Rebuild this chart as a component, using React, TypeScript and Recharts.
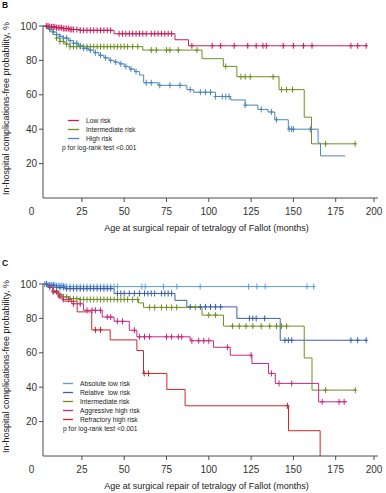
import React from 'react';
import { LineChart, Line, XAxis, YAxis } from 'recharts';

// axis values
const xTicks = [0, 25, 50, 75, 100, 125, 150, 175, 200];
const yTicks = [20, 40, 60, 80, 100];
const X0 = 2; // the plot starts a little right of "0"

// panel B: [months, %] step points + censored times
const bLowSteps = [[2, 100], [6, 99.5], [10, 99], [14, 98.5], [18, 98], [24, 97.5], [44, 95.5], [80, 92], [88, 88.5]];
const bLowCensor = [4, 5, 6, 7, 8, 9, 10, 11, 12, 13, 14, 15, 16, 17, 18, 19, 20, 22, 24, 26, 28, 30, 32, 34, 36, 38, 40, 42, 47, 49, 51, 53, 55, 57, 59, 61, 63, 66, 68, 70, 72, 74, 76, 78, 90, 102, 107, 115, 123, 128, 132, 134, 144, 150, 156, 161, 184, 188, 193];

const bMidSteps = [[2, 100], [4, 98.5], [6, 97], [8, 95], [10, 93], [12, 91], [15, 89.5], [18, 88], [61, 86], [96, 81], [108.6, 76.5], [116.6, 70.5], [141.5, 63], [156.4, 47], [160.7, 31.5]];
const bMidCensor = [10, 12, 14, 16, 18, 20, 22, 24, 26, 28, 30, 32, 34, 36, 38, 40, 42, 44, 46, 48, 50, 52, 55, 58, 66, 69, 75, 77, 82, 93, 110, 119, 121.5, 124.5, 138, 143, 146, 149.5, 169, 186.5];

const bHighSteps = [[2, 100], [4, 99], [6, 98], [8, 96.5], [10, 95], [12, 94], [14, 93], [17, 91.5], [20, 90], [23, 88.5], [26, 87], [29, 86], [32, 84.5], [35, 83], [38, 81.5], [41, 80], [44, 79], [47, 78], [50, 76.5], [53, 75], [56, 73.5], [59, 71.5], [61.5, 67], [70, 65.5], [87, 63], [91, 61.5], [104, 59], [113, 57], [121.5, 54], [129, 51.5], [135, 50], [139, 45.5], [147, 40], [164.6, 32], [166, 24.5], [180.6, 24.5]];
const bHighCensor = [6, 8, 10, 12, 14, 16, 18, 20, 22, 24, 26, 28, 30, 33, 36, 39, 42, 45, 48, 51, 54, 57, 63, 66, 71, 77, 83, 89, 95, 98, 101, 104, 108, 110, 112, 121.5, 131, 137, 140, 147.5, 149, 150, 160];

// panel C
const cAbsSteps = [[2, 100], [5, 99.5], [10, 99], [15, 98.5]];
const cAbsCensor = [3, 4, 5, 6, 7, 8, 9, 10, 11, 12, 13, 14, 15, 16, 18, 20, 22, 24, 26, 28, 30, 32, 34, 36, 38, 40, 42, 44, 46, 60.4, 62.4, 73.2, 81.1, 94.9, 123.5, 128.4, 133.3, 158, 162];

const cRelSteps = [[2, 100], [6, 99], [10, 98], [15, 97.3], [44, 94.5], [80, 90.5], [87, 86.7], [116.6, 80], [142.2, 67.3]];
const cRelCensor = [4, 6, 8, 10, 12, 14, 16, 18, 20, 22, 24, 26, 28, 30, 32, 34, 36, 38, 40, 42, 46, 48, 50, 53, 56, 59, 62, 64, 66, 68, 72, 74, 76, 78, 89, 95, 98, 101, 104, 107, 124, 126, 128, 133, 145, 147, 149, 184, 188, 193];

const cMidSteps = [[2, 100], [5, 98], [8, 96], [11, 94], [14, 92.5], [18, 91.5], [24, 91], [58.4, 89], [61.4, 86.4], [96, 81.9], [108.7, 75.5], [156.4, 57], [161, 38.3]];
const cMidCensor = [8, 10, 12, 14, 16, 18, 20, 22, 24, 26, 28, 30, 32, 34, 36, 38, 40, 42, 44, 46, 48, 50, 52, 55, 58, 65, 68, 72, 75, 78, 81, 92, 100, 104, 114, 118, 122, 126, 131, 136, 140, 143, 146, 169, 186.6];

const cAggSteps = [[2, 100], [5, 98], [8, 95.5], [11, 93], [14, 91], [19, 88.5], [26, 84.7], [37, 80.8], [44, 78.3], [53, 73.1], [57.5, 69.3], [89, 67], [102.8, 63.2], [112.7, 58.6], [125.5, 53.8], [135.3, 48], [139.3, 42.2], [164.9, 31.5], [181.7, 31.5]];
const cAggCensor = [6, 8, 10, 12, 14, 17, 20, 24, 28, 31, 33, 36, 40, 42, 46, 49, 56, 59, 62, 65, 75, 78, 82, 84, 90, 94, 97, 100, 111, 125, 137, 141.5, 149, 167, 177, 180];

const cRefSteps = [[2, 100], [5, 98], [8, 95], [11, 92], [14, 90], [22.2, 83.8], [30.8, 73.3], [41.7, 67.5], [57.5, 61.3], [61.4, 48], [75.2, 38.7], [86, 29.2], [147.1, 14.7], [165.8, 0]];
const cRefCensor = [33, 36, 61.8, 64.4, 146.5];

const AXIS = '#4a4a4a';
const FONT = '"Liberation Sans", Arial, sans-serif';

// merge step points and censor marks (censor y = current step value)
function build(steps: number[][], censor: number[]) {
  const pts = steps.map(([x, y]) => ({ x, y, c: false }));
  censor.forEach((t) => {
    let y = steps[0][1];
    for (const [sx, sy] of steps) if (sx <= t) y = sy;
    pts.push({ x: t, y, c: true });
  });
  return pts.sort((a, b) => a.x - b.x || Number(a.c) - Number(b.c));
}

const panelB = [
  { name: 'Low risk', color: '#c91d5c', data: build(bLowSteps, bLowCensor) },
  { name: 'Intermediate risk', color: '#6e8f22', data: build(bMidSteps, bMidCensor) },
  { name: 'High risk', color: '#4a86b8', data: build(bHighSteps, bHighCensor) },
];

const panelC = [
  { name: 'Absolute low risk', color: '#5d9dd6', data: build(cAbsSteps, cAbsCensor) },
  { name: 'Relative  low risk', color: '#3c5fa8', data: build(cRelSteps, cRelCensor) },
  { name: 'Intermediate risk', color: '#6e8f22', data: build(cMidSteps, cMidCensor) },
  { name: 'Aggressive high risk', color: '#c8287f', data: build(cAggSteps, cAggCensor) },
  { name: 'Refractory high risk', color: '#d42424', data: build(cRefSteps, cRefCensor) },
];

const censorDot = (color: string) => (props: any) => {
  const { cx, cy, payload, index } = props;
  if (!payload || !payload.c) return <g key={index} />;
  return (
    <path
      key={index}
      d={`M${cx},${cy - 3}V${cy + 3}M${cx - 2},${cy}H${cx + 2}`}
      stroke={color}
      strokeWidth={1}
      fill="none"
    />
  );
};

const XTick = (props: any) => {
  const { x, y, payload } = props;
  const v = payload.value;
  if (v === X0) {
    return (
      <text x={x - 11.5} y={y + 17} textAnchor="middle" fontSize={10} fill="#333" fontFamily={FONT}>
        0
      </text>
    );
  }
  return (
    <g>
      <line x1={x} x2={x} y1={y} y2={y + 4} stroke={AXIS} />
      <text x={x} y={y + 17} textAnchor="middle" fontSize={10} fill="#333" fontFamily={FONT}>
        {v}
      </text>
    </g>
  );
};

type Series = { name: string; color: string; data: { x: number; y: number; c: boolean }[] };

function Panel(p: {
  top: number;
  letter: string;
  series: Series[];
  legX: number;
  legY: number;
  gap: number;
  pX: number;
  sampleW: number;
}) {
  const { top, letter, series, legX, legY, gap, pX, sampleW } = p;
  return (
    <div style={{ position: 'absolute', left: 0, top, width: 386, height: 240 }}>
      <LineChart width={386} height={233} margin={{ top: 26, right: 8, bottom: 0, left: 0 }}>
        <XAxis
          type="number"
          dataKey="x"
          domain={[X0, 200]}
          ticks={xTicks.map((t) => Math.max(t, X0))}
          tick={<XTick />}
          tickLine={false}
          tickSize={0}
          tickMargin={0}
          height={35}
          axisLine={{ stroke: AXIS }}
          allowDataOverflow
        />
        <YAxis
          type="number"
          domain={[0, 100]}
          ticks={yTicks}
          width={43}
          tickSize={4}
          tickMargin={2}
          axisLine={{ stroke: AXIS }}
          tickLine={{ stroke: AXIS }}
          tick={{ fontSize: 10, fill: '#333', fontFamily: FONT }}
        />
        {series.map((s) => (
          <Line
            key={s.name}
            data={s.data}
            dataKey="y"
            type="stepAfter"
            stroke={s.color}
            strokeWidth={1}
            dot={censorDot(s.color)}
            activeDot={false}
            isAnimationActive={false}
          />
        ))}
      </LineChart>
      <svg
        width={386}
        height={240}
        style={{ position: 'absolute', left: 0, top: 0, overflow: 'visible', pointerEvents: 'none' }}
        fontFamily={FONT}
      >
        <text x={2} y={7.5} fontSize={8.5} fontWeight="bold" fill="#111">
          {letter}
        </text>
        <text
          transform="translate(6,108.5) rotate(-90)"
          textAnchor="middle"
          dy="0.35em"
          fontSize={9}
          fill="#222"
        >
          In-hospital complications-free probability, %
        </text>
        <text x={206.5} y={230.5} textAnchor="middle" fontSize={9} fill="#222">
          Age at surgical repair of tetralogy of Fallot (months)
        </text>
        {series.map((s, i) => (
          <g key={s.name}>
            <line
              x1={legX}
              x2={legX + sampleW}
              y1={legY + i * gap}
              y2={legY + i * gap}
              stroke={s.color}
              strokeWidth={1.3}
            />
            <text
              x={legX + sampleW + 7}
              y={legY + i * gap}
              dy="0.35em"
              fontSize={6.7}
              fill="#222"
              style={{ whiteSpace: 'pre' }}
            >
              {s.name}
            </text>
          </g>
        ))}
        <text x={pX} y={legY + series.length * gap} dy="0.35em" fontSize={6.7} fill="#222">
          p for log-rank test {'<'}0.001
        </text>
      </svg>
    </div>
  );
}

export default function App() {
  return (
    <div
      style={{
        position: 'fixed',
        left: 0,
        top: 0,
        width: 386,
        height: 493,
        overflow: 'hidden',
        background: '#fff',
      }}
    >
      <Panel top={0} letter="B" series={panelB} legX={68} legY={120.5} gap={9} pX={62} sampleW={11} />
      <Panel top={257.7} letter="C" series={panelC} legX={63} legY={125.5} gap={9} pX={63} sampleW={10} />
    </div>
  );
}
